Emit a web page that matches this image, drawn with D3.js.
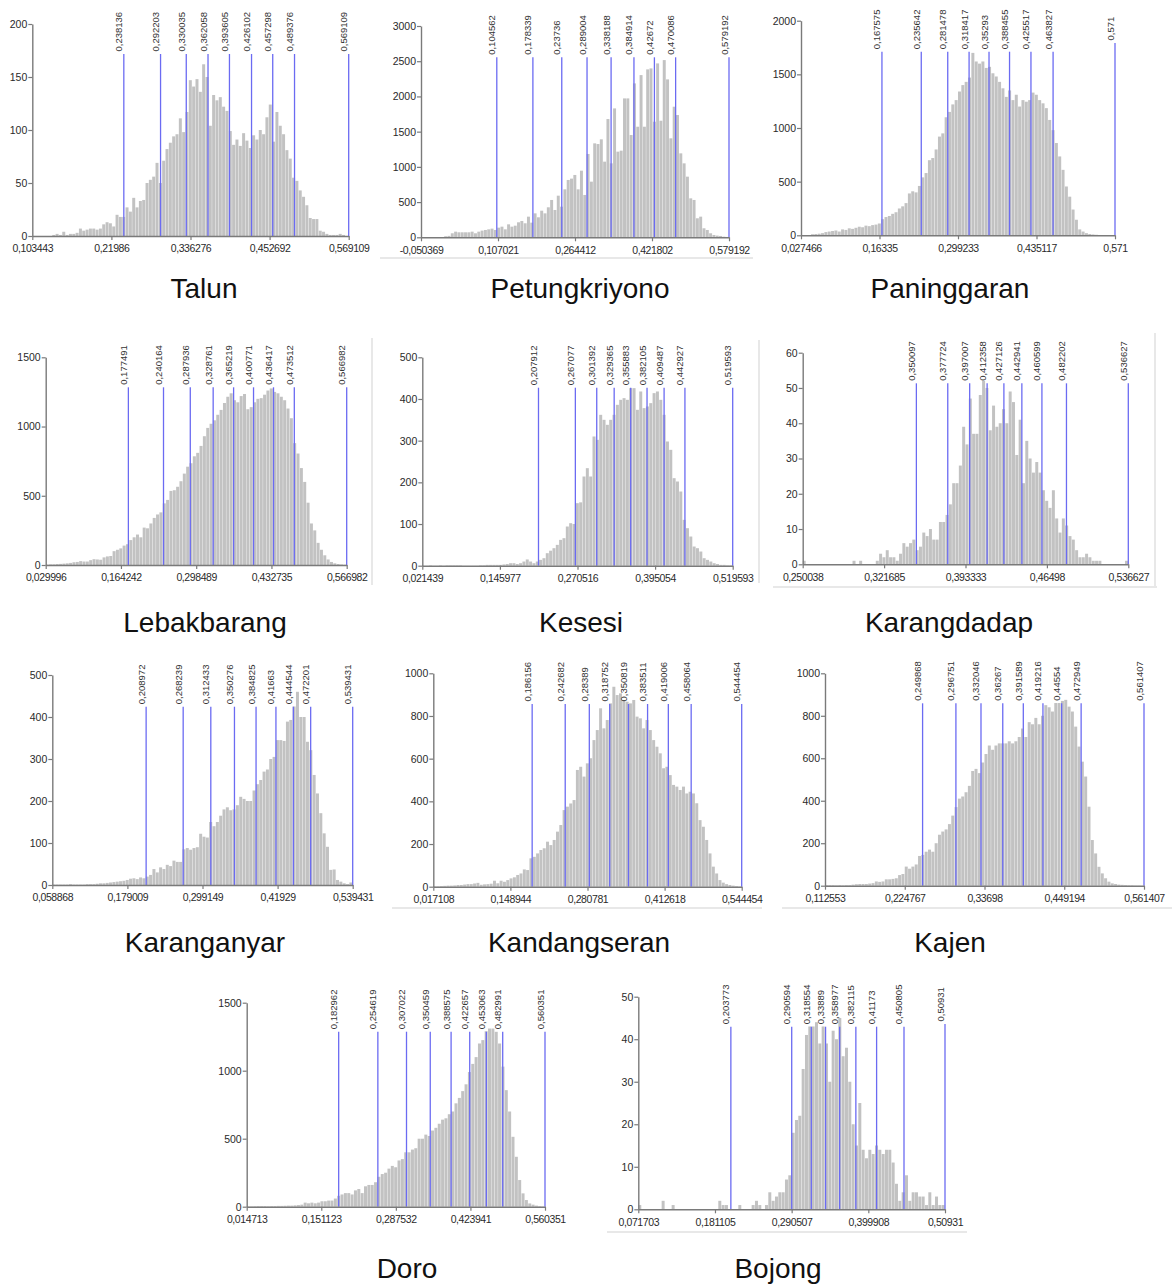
<!DOCTYPE html>
<html>
<head>
<meta charset="utf-8">
<script src="https://cdn.jsdelivr.net/npm/d3@7"></script>
<style>
  body { margin: 0; background: #fff; }
  svg text { font-family: "Liberation Sans", Arial, sans-serif; }
</style>
</head>
<body>
<svg id="chart" width="1172" height="1284"></svg>
<script>

  // ---- data ----

  // Talun
  var talunBins = [0,0,0,0,0,0,1,2,1,4,1,2,2,3,7,5,6,7,7,6,7,11,13,12,9,20,18,18,27,23,36,27,33,34,50,53,56,69,50,71,82,88,94,96,111,98,117,147,141,148,136,162,150,104,133,128,131,122,118,99,86,91,85,97,90,83,95,91,100,96,112,124,89,117,104,96,81,73,55,52,43,37,29,17,16,16,5,4,2,1,1,1,2,1,0];
  var talunXTicks = ["0,103443", "0,21986", "0,336276", "0,452692", "0,569109"];
  var talunYTicks = [0, 50, 100, 150, 200];
  var talunLines = [0.238136, 0.292203, 0.330035, 0.362058, 0.393605, 0.426102, 0.457298, 0.489376, 0.569109];

  // Petungkriyono
  var petungBins = [0,0,0,0,0,0,0,15,20,57,80,71,71,71,71,80,57,80,95,104,113,123,104,137,151,113,184,151,165,213,232,199,293,208,340,284,378,340,426,530,388,591,435,681,814,833,885,681,946,601,1183,790,1334,1324,1391,1074,1679,1050,1830,1216,1230,1972,1972,1452,2185,1570,2303,1570,2384,2398,1641,2469,1655,2516,2242,1405,1854,1736,1192,1050,861,553,530,270,293,128,104,57,33,24,19,9,5];
  var petungXTicks = ["-0,050369", "0,107021", "0,264412", "0,421802", "0,579192"];
  var petungYTicks = [0, 500, 1000, 1500, 2000, 2500, 3000];
  var petungLines = [0.104562, 0.178339, 0.23736, 0.289004, 0.338188, 0.384914, 0.42672, 0.470086, 0.579192];

  // Paninggaran
  var paningBins = [0,2,3,10,12,15,20,30,35,40,45,35,55,50,65,60,70,80,75,90,85,95,100,110,150,170,180,200,215,250,270,300,390,410,400,460,540,580,700,720,800,920,950,1100,1150,1220,1260,1340,1400,1430,1470,1700,1620,1600,1620,1560,1570,1510,1480,1430,1370,1290,1350,1260,1310,1200,1260,1245,1260,1330,1310,1260,1230,1185,1075,980,860,735,610,455,360,240,145,55,35,20,12,8,5,3,2,1,0,0];
  var paningXTicks = ["0,027466", "0,16335", "0,299233", "0,435117", "0,571"];
  var paningYTicks = [0, 500, 1000, 1500, 2000];
  var paningLines = [0.167575, 0.235642, 0.281478, 0.318417, 0.35293, 0.388455, 0.425517, 0.463827, 0.571];

  // Lebakbarang
  var lebakBins = [3,5,5,7,8,10,12,15,20,22,28,25,25,35,42,40,38,55,62,65,100,110,120,140,150,180,200,220,200,270,265,300,340,365,380,445,470,535,540,565,605,660,710,735,785,810,860,930,990,1020,1045,1085,1120,1170,1215,1240,1190,1175,1220,1235,1125,1140,1175,1200,1205,1230,1260,1275,1250,1240,1215,1190,1130,1060,880,805,700,600,450,300,250,160,110,70,40,22,12,7,4,2];
  var lebakXTicks = ["0,029996", "0,164242", "0,298489", "0,432735", "0,566982"];
  var lebakYTicks = [0, 500, 1000, 1500];
  var lebakLines = [0.177491, 0.240164, 0.287936, 0.328761, 0.365219, 0.400771, 0.436417, 0.473512, 0.566982];

  // Kesesi
  var kesesiBins = [0,0,1,0,0,1,0,1,1,1,1,1,0,0,0,0,0,1,1,2,2,2,2,2,3,4,6,6,4,6,10,15,10,6,10,14,18,30,36,42,50,62,66,94,102,100,150,152,214,234,214,310,302,362,350,338,350,362,386,398,402,398,426,426,374,418,378,382,390,414,418,398,362,298,278,210,202,178,110,90,70,46,42,34,18,14,10,6,4,2,2,1,1];
  var kesesiXTicks = ["0,021439", "0,145977", "0,270516", "0,395054", "0,519593"];
  var kesesiYTicks = [0, 100, 200, 300, 400, 500];
  var kesesiLines = [0.207912, 0.267077, 0.301392, 0.329365, 0.355883, 0.382105, 0.409487, 0.442927, 0.519593];

  // Karangdadap
  var dadapBins = [1,0,0,0,0,0,0,0,0,0,0,0,0,0,0,1,0,1,0,0,0,0,1,3,2,4,2,2,1,3,6,5,6,7,4,5,9,8,10,7,7,12,12,14,17,23,23,28,39,34,47,37,37,48,52,50,38,45,39,40,44,40,49,46,31,41,23,35,30,26,29,26,21,18,16,21,13,9,13,11,8,7,4,2,2,3,2,1,1,1,0,0,0,0,0,0,0,1];
  var dadapXTicks = ["0,250038", "0,321685", "0,393333", "0,46498", "0,536627"];
  var dadapYTicks = [0, 10, 20, 30, 40, 50, 60];
  var dadapLines = [0.350097, 0.377724, 0.397007, 0.412358, 0.427126, 0.442941, 0.460599, 0.482202, 0.536627];

  // Karanganyar
  var anyarBins = [1,1,1,1,1,2,1,1,1,1,2,2,2,3,4,4,5,6,7,8,9,10,12,15,16,14,18,16,20,24,38,30,42,38,48,45,58,55,55,85,88,84,88,90,122,115,113,150,140,150,165,180,185,178,180,190,210,205,200,200,225,240,250,270,275,300,305,345,345,343,389,393,425,460,400,400,341,321,262,218,171,123,91,36,37,12,8,4,2,6];
  var anyarXTicks = ["0,058868", "0,179009", "0,299149", "0,41929", "0,539431"];
  var anyarYTicks = [0, 100, 200, 300, 400, 500];
  var anyarLines = [0.208972, 0.268239, 0.312433, 0.350276, 0.384825, 0.41663, 0.444544, 0.472201, 0.539431];

  // Kandangseran
  var kandangBins = [2,2,3,4,5,5,6,8,8,10,12,12,15,18,9,11,12,14,28,16,28,23,31,39,44,55,62,81,78,133,140,156,172,180,211,195,219,258,289,359,375,390,406,547,562,516,578,602,687,734,836,742,781,859,937,898,906,875,867,859,875,797,789,742,781,734,687,656,625,555,562,523,477,469,453,469,437,445,437,391,312,281,219,156,94,62,31,19,12,8,5,3,1];
  var kandangXTicks = ["0,017108", "0,148944", "0,280781", "0,412618", "0,544454"];
  var kandangYTicks = [0, 200, 400, 600, 800, 1000];
  var kandangLines = [0.186156, 0.242682, 0.28389, 0.318752, 0.350819, 0.383511, 0.419006, 0.458064, 0.544454];

  // Kajen
  var kajenBins = [3,3,3,2,3,2,3,3,5,7,8,8,8,10,12,20,18,20,30,30,32,35,50,55,90,80,90,100,140,145,160,170,160,200,240,255,265,290,330,370,410,420,440,470,540,550,530,580,620,660,640,660,670,670,670,680,670,680,700,740,700,770,760,790,760,800,850,840,820,860,860,870,875,843,820,749,655,584,514,372,215,152,89,58,35,19,11,8,5,4,3,2,2,1,1,0];
  var kajenXTicks = ["0,112553", "0,224767", "0,33698", "0,449194", "0,561407"];
  var kajenYTicks = [0, 200, 400, 600, 800, 1000];
  var kajenLines = [0.249868, 0.296751, 0.332046, 0.36267, 0.391589, 0.419216, 0.44554, 0.472949, 0.561407];

  // Doro
  var doroBins = [3,3,4,5,5,5,4,5,5,6,6,7,8,8,10,12,15,30,25,30,25,30,40,40,45,45,60,80,90,100,100,90,120,130,100,150,160,160,180,220,240,250,280,300,290,340,350,400,400,420,430,500,500,530,520,560,580,610,640,650,680,700,760,800,850,900,990,1050,1100,1200,1225,1290,1310,1310,1286,1200,1030,857,700,514,367,196,98,49,24,15,8,4,2];
  var doroXTicks = ["0,014713", "0,151123", "0,287532", "0,423941", "0,560351"];
  var doroYTicks = [0, 500, 1000, 1500];
  var doroLines = [0.182962, 0.254619, 0.307022, 0.350459, 0.388575, 0.422657, 0.453063, 0.482991, 0.560351];

  // Bojong
  var bojongBins = [1,0,0,0,0,0,0,2,0,0,1,0,0,0,0,0,0,0,0,0,0,0,0,0,2,1,1,0,0,0,1,0,0,0,1,2,1,0,1,4,2,3,4,4,7,8,18,21,22,33,41,43,43,44,39,43,39,30,42,40,45,36,38,30,20,15,25,14,12,14,13,15,14,13,14,14,11,6,2,4,8,2,4,4,3,3,1,4,1,3,1,1];
  var bojongXTicks = ["0,071703", "0,181105", "0,290507", "0,399908", "0,50931"];
  var bojongYTicks = [0, 10, 20, 30, 40, 50];
  var bojongLines = [0.203773, 0.290594, 0.318554, 0.33889, 0.358977, 0.382115, 0.41173, 0.450805, 0.50931];

  var panels = [
    { name: "Talun", bins: talunBins, xTicks: talunXTicks, yTicks: talunYTicks, lines: talunLines },
    { name: "Petungkriyono", bins: petungBins, xTicks: petungXTicks, yTicks: petungYTicks, lines: petungLines },
    { name: "Paninggaran", bins: paningBins, xTicks: paningXTicks, yTicks: paningYTicks, lines: paningLines },
    { name: "Lebakbarang", bins: lebakBins, xTicks: lebakXTicks, yTicks: lebakYTicks, lines: lebakLines },
    { name: "Kesesi", bins: kesesiBins, xTicks: kesesiXTicks, yTicks: kesesiYTicks, lines: kesesiLines },
    { name: "Karangdadap", bins: dadapBins, xTicks: dadapXTicks, yTicks: dadapYTicks, lines: dadapLines },
    { name: "Karanganyar", bins: anyarBins, xTicks: anyarXTicks, yTicks: anyarYTicks, lines: anyarLines },
    { name: "Kandangseran", bins: kandangBins, xTicks: kandangXTicks, yTicks: kandangYTicks, lines: kandangLines },
    { name: "Kajen", bins: kajenBins, xTicks: kajenXTicks, yTicks: kajenYTicks, lines: kajenLines },
    { name: "Doro", bins: doroBins, xTicks: doroXTicks, yTicks: doroYTicks, lines: doroLines },
    { name: "Bojong", bins: bojongBins, xTicks: bojongXTicks, yTicks: bojongYTicks, lines: bojongLines }
  ];

  // ---- where each little chart sits on the page ----
  var layout = [
    { x0: 32.3,  x1: 348.7,  yB: 236,    yT: 24,     lineTop: 54,     lastLift: 0,   tx: 204, ty: 298 },
    { x0: 421,   x1: 729,    yB: 237.3,  yT: 26,     lineTop: 57.3,   lastLift: 0,   tx: 580, ty: 298 },
    { x0: 801,   x1: 1115,   yB: 235.3,  yT: 20.7,   lineTop: 51.7,   lastLift: 8.7, tx: 950, ty: 298 },
    { x0: 45.7,  x1: 346.7,  yB: 565,    yT: 357.3,  lineTop: 387.3,  lastLift: 0,   tx: 205, ty: 632 },
    { x0: 422.3, x1: 732.7,  yB: 565.7,  yT: 357.3,  lineTop: 387.7,  lastLift: 0,   tx: 581, ty: 632 },
    { x0: 802.7, x1: 1128.3, yB: 564.3,  yT: 352.7,  lineTop: 383.3,  lastLift: 0,   tx: 949, ty: 632 },
    { x0: 52.3,  x1: 352.7,  yB: 885,    yT: 675,    lineTop: 706.7,  lastLift: 0,   tx: 205, ty: 952 },
    { x0: 433.3, x1: 741.7,  yB: 886.7,  yT: 673.3,  lineTop: 704,    lastLift: 0,   tx: 579, ty: 952 },
    { x0: 825,   x1: 1144,   yB: 885.7,  yT: 673.3,  lineTop: 703.3,  lastLift: 0,   tx: 950, ty: 952 },
    { x0: 246.7, x1: 545,    yB: 1206.7, yT: 1002.7, lineTop: 1031.7, lastLift: 0,   tx: 407, ty: 1278 },
    { x0: 638.3, x1: 945,    yB: 1209.3, yT: 996.7,  lineTop: 1026.7, lastLift: 2.7, tx: 778, ty: 1278 }
  ];

  // faint screenshot edges seen round some panels
  var edges = [
    [380, 258, 753, 258], [372, 338, 372, 585], [759, 340, 759, 583],
    [1155, 333, 1155, 587], [773, 587, 1157, 587], [392, 908, 762, 908],
    [782, 908, 1172, 908], [607, 1232, 967, 1232]
  ];

  var svg = d3.select('#chart');

  svg.selectAll('line.edge')
    .data(edges)
    .enter()
    .append('line')
    .attr('class', 'edge')
    .attr('x1', function (d) { return d[0]; })
    .attr('y1', function (d) { return d[1]; })
    .attr('x2', function (d) { return d[2]; })
    .attr('y2', function (d) { return d[3]; })
    .attr('stroke', '#e8e8e8')
    .attr('stroke-width', 2);

  function num(s) {
    return +s.replace(',', '.');
  }

  function comma(v) {
    return String(v).replace('.', ',');
  }

  panels.forEach(function (p, k) {
    var L = layout[k];
    var xt = p.xTicks.map(num);
    var lo = xt[0], hi = xt[xt.length - 1];
    var step = (hi - lo) / p.bins.length;

    var x = d3.scaleLinear().domain([lo, hi]).range([L.x0, L.x1]);
    var y = d3.scaleLinear().domain([0, d3.max(p.yTicks)]).range([L.yB, L.yT]);

    var g = svg.append('g').attr('class', 'panel');

    // bars
    g.selectAll('rect')
      .data(p.bins)
      .enter()
      .append('rect')
      .attr('x', function (d, i) { return x(lo + i * step); })
      .attr('width', function (d, i) { return Math.max(0.5, x(lo + (i + 1) * step) - x(lo + i * step) - 0.35); })
      .attr('y', function (d) { return y(d); })
      .attr('height', function (d) { return y(0) - y(d); })
      .attr('fill', '#c2c2c2');

    // percentile lines
    var last = p.lines.length - 1;
    function topOf(i) { return i === last ? L.lineTop - L.lastLift : L.lineTop; }

    g.selectAll('line.q')
      .data(p.lines)
      .enter()
      .append('line')
      .attr('class', 'q')
      .attr('x1', function (d) { return x(d); })
      .attr('x2', function (d) { return x(d); })
      .attr('y1', y(0))
      .attr('y2', function (d, i) { return topOf(i); })
      .attr('stroke', '#6b6bf2')
      .attr('stroke-width', 1.3);

    g.selectAll('text.q')
      .data(p.lines)
      .enter()
      .append('text')
      .attr('class', 'q')
      .attr('transform', function (d, i) {
        return 'translate(' + (x(d) - 1.5) + ',' + (topOf(i) - 2.5) + ') rotate(-90)';
      })
      .attr('font-size', '9.5px')
      .attr('fill', '#333')
      .text(function (d) { return comma(d); });

    // axes
    var xAxis = d3.axisBottom(x)
      .tickValues(xt)
      .tickFormat(function (d, i) { return p.xTicks[i]; })
      .tickSizeInner(4)
      .tickSizeOuter(0)
      .tickPadding(5);

    var yAxis = d3.axisLeft(y)
      .tickValues(p.yTicks)
      .tickFormat(d3.format('d'))
      .tickSizeInner(4)
      .tickSizeOuter(0)
      .tickPadding(1);

    var gx = g.append('g')
      .attr('transform', 'translate(0,' + L.yB + ')')
      .call(xAxis);

    var gy = g.append('g')
      .attr('transform', 'translate(' + L.x0 + ',0)')
      .call(yAxis);

    [gx, gy].forEach(function (a) {
      a.select('.domain').attr('stroke', '#7a7a7a').attr('stroke-width', 1.4);
      a.selectAll('.tick line').attr('stroke', '#7a7a7a').attr('stroke-width', 1.2);
      a.selectAll('.tick text')
        .attr('fill', '#2a2a2a')
        .attr('font-size', '10.5px')
        .attr('font-family', '"Liberation Sans", Arial, sans-serif');
    });
    gx.selectAll('.tick text').attr('letter-spacing', '-0.4px');

    // district name
    g.append('text')
      .attr('x', L.tx)
      .attr('y', L.ty)
      .attr('text-anchor', 'middle')
      .attr('font-size', '28px')
      .attr('fill', '#111')
      .text(p.name);
  });

</script>
</body>
</html>
